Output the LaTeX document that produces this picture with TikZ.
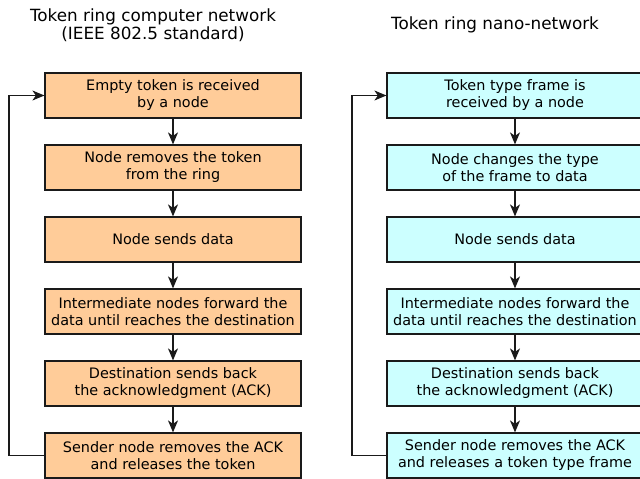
\documentclass[tikz,border=0pt]{standalone}
\usepackage{fontspec}
\setmainfont{DejaVu Sans}
\usetikzlibrary{arrows.meta}
\definecolor{stepOrange}{HTML}{FFCC99}
\definecolor{stepCyan}{HTML}{CCFFFF}
\definecolor{lineGray}{HTML}{1A1A1A}
\tikzset{
  stepbox/.style={draw=lineGray, line width=1.2pt, minimum width=256pt, minimum height=45pt,
    align=center, inner sep=0pt, font=\fontsize{14.4}{17}\selectfont},
  oldbox/.style={stepbox, fill=stepOrange},
  nanobox/.style={stepbox, fill=stepCyan},
  flow/.style={draw=lineGray, line width=1.2pt, -{Stealth[length=12pt, width=10pt, inset=3.5pt]}},
  heading/.style={align=center, font=\fontsize{16.8}{18}\selectfont}
}
\begin{document}
\begin{tikzpicture}[x=1pt, y=-1pt]
\useasboundingbox (0,0) rectangle (640,479);
% headings
\node[heading] (t1) at (153,25.5) {Token ring computer network\\(IEEE 802.5 standard)};
\node[heading] (t2) at (495,24.5) {Token ring nano-network};
% IEEE 802.5 procedure
\node[oldbox] (a1) at (173,95.5) {Empty token is received\\by a node};
\node[oldbox] (a2) at (173,167.5) {Node removes the token\\from the ring};
\node[oldbox] (a3) at (173,239.5) {Node sends data};
\node[oldbox] (a4) at (173,311.5) {Intermediate nodes forward the\\data until reaches the destination};
\node[oldbox] (a5) at (173,383.5) {Destination sends back\\the acknowledgment (ACK)};
\node[oldbox] (a6) at (173,455.5) {Sender node removes the ACK\\and releases the token};
% nano-network procedure
\node[nanobox] (b1) at (515,95.5) {Token type frame is\\received by a node};
\node[nanobox] (b2) at (515,167.5) {Node changes the type\\of the frame to data};
\node[nanobox] (b3) at (515,239.5) {Node sends data};
\node[nanobox] (b4) at (515,311.5) {Intermediate nodes forward the\\data until reaches the destination};
\node[nanobox] (b5) at (515,383.5) {Destination sends back\\the acknowledgment (ACK)};
\node[nanobox] (b6) at (515,455.5) {Sender node removes the ACK\\and releases a token type frame};
% forward arrows
\foreach \i/\j in {1/2,2/3,3/4,4/5,5/6} {
  \draw[flow] (a\i) -- (a\j);
  \draw[flow] (b\i) -- (b\j);
}
% return loops
\coordinate (la) at (9,455.5);
\coordinate (lb) at (352,455.5);
\draw[flow] (a6.west) -- (la) |- (a1.west);
\draw[flow] (b6.west) -- (lb) |- (b1.west);
\end{tikzpicture}
\end{document}
